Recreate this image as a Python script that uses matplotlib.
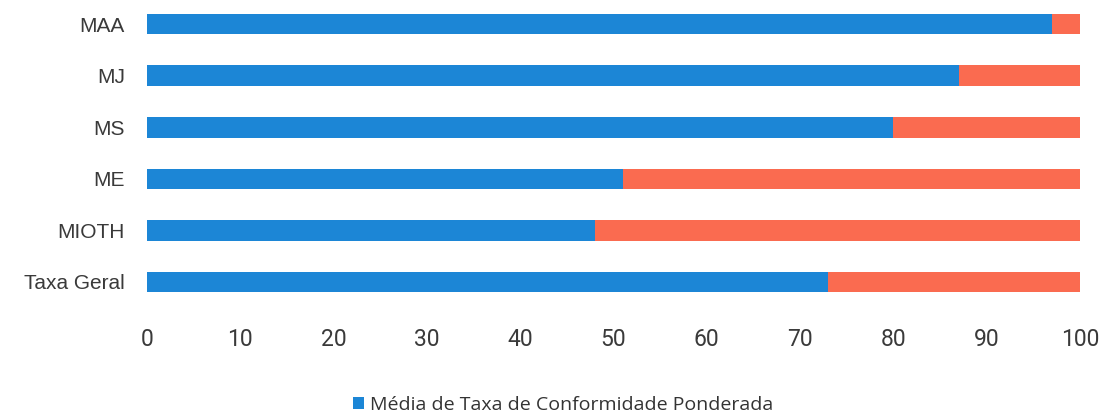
import matplotlib
matplotlib.use("Agg")
import matplotlib.pyplot as plt
from matplotlib.patches import Patch

categories = ["MAA", "MJ", "MS", "ME", "MIOTH", "Taxa Geral"]
conformidade = [97, 87, 80, 51, 48, 73]
restante = [100 - v for v in conformidade]
xticks = [0, 10, 20, 30, 40, 50, 60, 70, 80, 90, 100]

BLUE = "#1C86D6"
ORANGE = "#FA6B50"

fig = plt.figure(figsize=(11.08, 4.16), dpi=100)
ax = fig.add_axes([147/1108, 116/416, (1080-147)/1108, 296/416])

y = list(range(len(categories)))
ax.barh(y, conformidade, height=0.4, color=BLUE, label="Média de Taxa de Conformidade Ponderada")
ax.barh(y, restante, left=conformidade, height=0.4, color=ORANGE)

ax.set_ylim(5.35, -0.39)
ax.set_xlim(0, 100)
ax.set_xticks(xticks)
ax.set_xticklabels([str(t) for t in xticks], fontfamily="Roboto",
                   fontsize=16.5, color="#3a3a3a")
ax.set_yticks(y)
ax.set_yticklabels(categories, fontfamily="Liberation Sans", fontsize=15, color="#3a3a3a")
ax.tick_params(axis="both", length=0)
ax.tick_params(axis="x", pad=20)
ax.tick_params(axis="y", pad=16)
for s in ax.spines.values():
    s.set_visible(False)

handles = [Patch(facecolor=BLUE, edgecolor="none", label="Média de Taxa de Conformidade Ponderada")]
fig.legend(handles=handles, loc="center", bbox_to_anchor=(563/1108, 1 - 405/416),
           frameon=False, prop={"family": "Open Sans", "size": 14},
           handlelength=0.6, handleheight=0.6, handletextpad=0.3, labelcolor="#333333")

fig.savefig("out.png", dpi=100)
